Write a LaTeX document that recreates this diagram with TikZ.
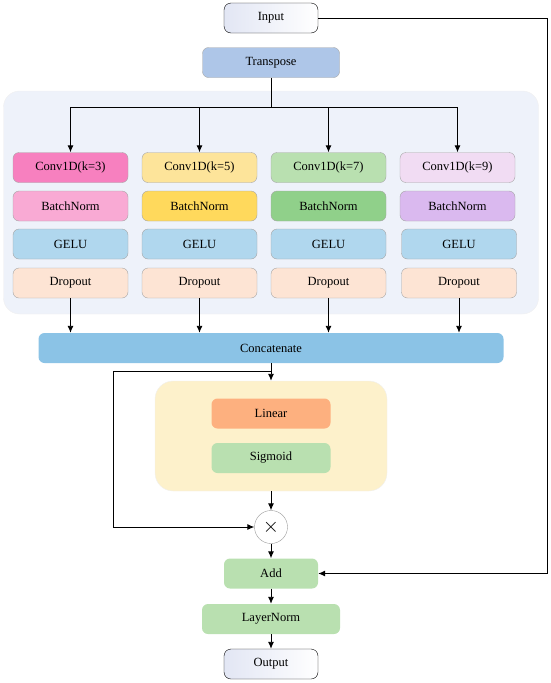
\documentclass[tikz,border=0pt]{standalone}
\usepackage{fontspec}
\setmainfont{Liberation Serif}
\usetikzlibrary{arrows.meta,positioning}
\definecolor{panelbg}{HTML}{EEF2FA}
\definecolor{gatebg}{HTML}{FDF1CB}
\definecolor{trfill}{HTML}{AEC6E8}
\definecolor{catfill}{HTML}{8BC3E6}
\definecolor{convA}{HTML}{F780BF}
\definecolor{convB}{HTML}{FDE49A}
\definecolor{convC}{HTML}{B9E0B0}
\definecolor{convD}{HTML}{F1DCF3}
\definecolor{bnA}{HTML}{F9AAD4}
\definecolor{bnB}{HTML}{FFD95C}
\definecolor{bnC}{HTML}{90D08A}
\definecolor{bnD}{HTML}{DAB9EF}
\definecolor{gelufill}{HTML}{B0D7EE}
\definecolor{dropfill}{HTML}{FDE4D4}
\definecolor{linfill}{HTML}{FDB07F}
\definecolor{grnfill}{HTML}{B9E0B0}
\definecolor{iofill}{HTML}{E2E6F4}

\begin{document}
\begin{tikzpicture}[x=1pt,y=-1pt,font=\fontsize{12.5}{14}\selectfont,
  box/.style={draw=black!35,rounded corners=6pt,minimum width=115pt,minimum height=30pt,inner sep=2pt},
  flat/.style={rounded corners=6pt,minimum height=30pt,inner sep=2pt},
  io/.style={draw=black,rounded corners=7pt,left color=iofill,right color=white,minimum width=94pt,minimum height=30pt},
  ar/.style={-{Latex[length=7pt,width=6pt]},line width=0.9pt},
  ln/.style={line width=0.9pt}]
\useasboundingbox (0,0) rectangle (550,683);
% background panels
\node[fill=panelbg,draw=black!6,rounded corners=16pt,minimum width=535pt,minimum height=223pt] (bg) at (271,202.5) {};
\node[fill=gatebg,draw=black!6,rounded corners=18pt,minimum width=232pt,minimum height=110pt] (gate) at (271,436) {};
% top
\node[io] (in) at (271,18) {Input};
\node[box,fill=trfill,minimum width=137pt] (tr) at (271,62.5) {Transpose};
% four branches
\node[box,fill=convA] (c1) at (70.5,167.5) {Conv1D(k=3)};
\node[box,fill=convB] (c2) at (199.5,167.5) {Conv1D(k=5)};
\node[box,fill=convC] (c3) at (328.5,167.5) {Conv1D(k=7)};
\node[box,fill=convD] (c4) at (457.5,167.5) {Conv1D(k=9)};
\node[box,fill=bnA] (b1) at (70.5,206) {BatchNorm};
\node[box,fill=bnB] (b2) at (199.5,206) {BatchNorm};
\node[box,fill=bnC] (b3) at (328.5,206) {BatchNorm};
\node[box,fill=bnD] (b4) at (457.5,206) {BatchNorm};
\node[box,fill=gelufill] (g1) at (70.5,244) {GELU};
\node[box,fill=gelufill] (g2) at (199.5,244) {GELU};
\node[box,fill=gelufill] (g3) at (328.5,244) {GELU};
\node[box,fill=gelufill] (g4) at (459,244) {GELU};
\node[box,fill=dropfill] (d1) at (70.5,283) {Dropout};
\node[box,fill=dropfill] (d2) at (199.5,283) {Dropout};
\node[box,fill=dropfill] (d3) at (328.5,283) {Dropout};
\node[box,fill=dropfill] (d4) at (459,283) {Dropout};
% merge and gate
\node[flat,fill=catfill,minimum width=465pt] (cat) at (271,348) {Concatenate};
\node[flat,fill=linfill,minimum width=119pt] (lin) at (271,413.5) {Linear};
\node[flat,fill=grnfill,minimum width=119pt] (sig) at (271,458) {Sigmoid};
\node[circle,draw=black!40,fill=white,minimum size=33pt,inner sep=0pt] (mul) at (271,527) {\fontsize{20}{20}\selectfont$\times$};
\node[flat,fill=grnfill,minimum width=94pt] (add) at (271,573.5) {Add};
\node[flat,fill=grnfill,minimum width=138pt] (lnorm) at (271,619) {LayerNorm};
\node[io] (out) at (271,664) {Output};
% helper points
\coordinate (split) at (271,107);
\coordinate (tap) at (271,371);
\coordinate (skip) at (113,371);
\coordinate (res) at (547,18);
% connectors
\draw[ln] (tr) -- (split);
\draw[ar] (split) -| (c1); \draw[ar] (split) -| (c2); \draw[ar] (split) -| (c3); \draw[ar] (split) -| (c4);
\draw[ar] (d1) -- (d1 |- cat.north); \draw[ar] (d2) -- (d2 |- cat.north);
\draw[ar] (d3) -- (d3 |- cat.north); \draw[ar] (d4) -- (d4 |- cat.north);
\draw[ar] (cat) -- (gate);
\draw[ar] (tap) -- (skip) |- (mul);
\draw[ar] (gate) -- (mul);
\draw[ar] (mul) -- (add);
\draw[ar] (in) -- (res) |- (add);
\draw[ar] (add) -- (lnorm);
\draw[ar] (lnorm) -- (out);
\end{tikzpicture}
\end{document}
